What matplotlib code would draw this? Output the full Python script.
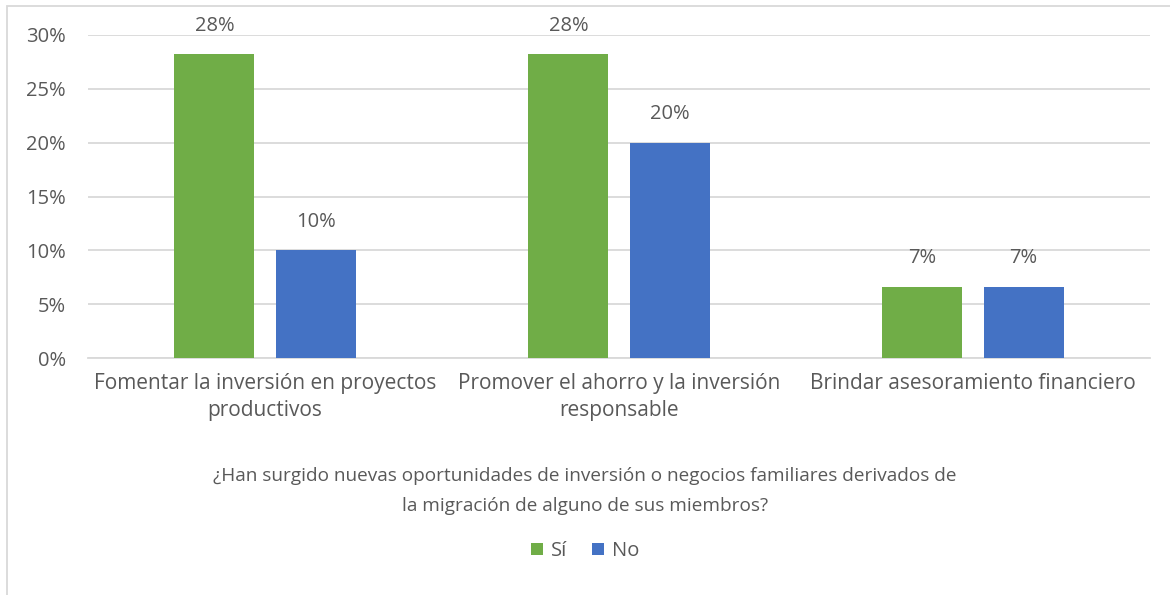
import numpy as np
import matplotlib.pyplot as plt
from matplotlib.patches import Rectangle

categories = ["Fomentar la inversión en proyectos\nproductivos",
              "Promover el ahorro y la inversión\nresponsable",
              "Brindar asesoramiento financiero"]
si_values = [28.2, 28.2, 6.6]
no_values = [10.0, 20.0, 6.6]
si_labels = ["28%", "28%", "7%"]
no_labels = ["10%", "20%", "7%"]
yticks = [0, 5, 10, 15, 20, 25, 30]

green = "#70AD47"
blue = "#4472C4"
text_col = "#595959"

plt.rcParams['font.family'] = ['Open Sans', 'DejaVu Sans']

fig = plt.figure(figsize=(11.7, 5.95), dpi=100)
ax = fig.add_axes([88 / 1170, 1 - 358 / 595, (1150 - 88) / 1170, (358 - 35) / 595])

x = np.arange(len(categories))
w = 0.226
off = 0.143
b1 = ax.bar(x - off, si_values, w, color=green, label="Sí", zorder=3)
b2 = ax.bar(x + off, no_values, w, color=blue, label="No", zorder=3)

for bars, labels in ((b1, si_labels), (b2, no_labels)):
    for rect, lab in zip(bars, labels):
        ax.annotate(lab, (rect.get_x() + rect.get_width() / 2, rect.get_height()),
                    xytext=(0, 13.5), textcoords="offset points", ha="center", va="bottom",
                    fontsize=14.5, color=text_col)

ax.set_xlim(-0.5, 2.5)
ax.set_ylim(0, 30)
ax.set_yticks(yticks)
ax.set_yticklabels([f"{v}%" for v in yticks])
ax.set_xticks(x)
ax.set_xticklabels(categories, fontsize=15, color=text_col, linespacing=1.35)
ax.tick_params(axis="y", labelsize=14.5, labelcolor=text_col, length=0, pad=16)
ax.tick_params(axis="x", length=0, pad=11)
ax.grid(axis="y", color="#D9D9D9", linewidth=1.3, zorder=0)
for s in ["top", "right", "left"]:
    ax.spines[s].set_visible(False)
ax.spines["bottom"].set_color("#D9D9D9")
ax.spines["bottom"].set_linewidth(1.3)

fig.text(0.5, 1 - 491 / 595,
         "¿Han surgido nuevas oportunidades de inversión o negocios familiares derivados de\n"
         "la migración de alguno de sus miembros?",
         ha="center", va="center", fontsize=13.7, color=text_col, linespacing=1.9)

fig.legend(handles=[b1, b2], labels=["Sí", "No"], loc="center",
           bbox_to_anchor=(0.5, 1 - 551 / 595), ncol=2, frameon=False,
           fontsize=14.5, labelcolor=text_col, handlelength=0.6, handleheight=0.6,
           handletextpad=0.4, columnspacing=1.2)

# outer chart frame (partly cropped in the original)
frame = Rectangle((7 / 1170, -0.1), 1.2, 1 - 6 / 595 + 0.1, transform=fig.transFigure,
                  fill=False, edgecolor="#D9D9D9", linewidth=1.3)
fig.patches.append(frame)

fig.savefig("out.png", dpi=100)
